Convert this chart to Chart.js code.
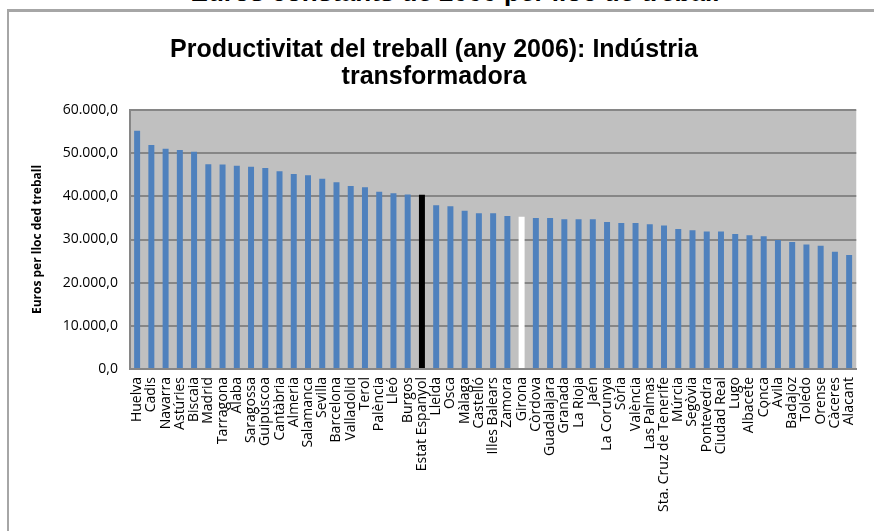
<!DOCTYPE html>
<html>
<head>
<meta charset="utf-8">
<script src="https://cdn.jsdelivr.net/npm/chart.js@4"></script>
<style>
  body { margin: 0; background: #fff; overflow: hidden; }
  #wrap { position: relative; width: 874px; height: 531px; }
  #frame { position: absolute; left: 7px; top: 9px; width: 900px; height: 600px;
           border-left: 2px solid #a6a6a6; border-top: 3px solid #a6a6a6; pointer-events: none; }
  #cut { position: absolute; left: 0; width: 910px; top: -23px; text-align: center;
         font: bold 26px "Liberation Sans", sans-serif; color: #000; }
  canvas { position: absolute; left: 0; top: 0; }
</style>
</head>
<body>
<div id="wrap">
  <div id="cut">Euros constants de 2000 per lloc de treball</div>
  <canvas id="prodChart" width="874" height="531"></canvas>
  <div id="frame"></div>
</div>
<script>
const categories = ["Huelva", "Cadis", "Navarra", "Astúries", "Biscaia", "Madrid", "Tarragona", "Àlaba",
  "Saragossa", "Guipúscoa", "Cantàbria", "Almeria", "Salamanca", "Sevilla", "Barcelona", "Valladolid",
  "Terol", "Palència", "Lleó", "Burgos", "Estat Espanyol", "Lleida", "Osca", "Màlaga", "Castelló",
  "Illes Balears", "Zamora", "Girona", "Còrdova", "Guadalajara", "Granada", "La Rioja", "Jaén",
  "La Corunya", "Sòria", "València", "Las Palmas", "Sta. Cruz de Tenerife", "Múrcia", "Segòvia",
  "Pontevedra", "Ciudad Real", "Lugo", "Albacete", "Conca", "Àvila", "Badajoz", "Toledo", "Orense",
  "Càceres", "Alacant"];

const productivity = [55200, 51900, 51050, 50750, 50300, 47430, 47400, 47100,
  46880, 46580, 45800, 45200, 44900, 44100, 43270, 42400,
  42100, 41050, 40720, 40420, 40350, 37950, 37700, 36650, 36100,
  36100, 35450, 35250, 35000, 35000, 34700, 34700, 34700,
  34080, 33850, 33850, 33550, 33230, 32450, 32150,
  31850, 31850, 31300, 31000, 30750, 29900, 29400, 28850, 28550,
  27150, 26400];

const yTicks = [0, 10000, 20000, 30000, 40000, 50000, 60000];

const barColors = categories.map(c => {
    if (c === "Estat Espanyol") return "#000000";
    if (c === "Girona") return "#ffffff";
    return "#4f81bd";
});

const plotBg = {
    id: 'plotBg',
    beforeDraw(chart) {
        const a = chart.chartArea;
        const ctx = chart.ctx;
        ctx.save();
        ctx.fillStyle = "#c0c0c0";
        ctx.fillRect(a.left, a.top, a.right - a.left, a.bottom - a.top);
        ctx.restore();
    }
};

new Chart("prodChart", {
    type: "bar",
    data: {
        labels: categories,
        datasets: [{
            data: productivity,
            backgroundColor: barColors,
            barPercentage: 0.42,
            categoryPercentage: 1.0
        }]
    },
    options: {
        responsive: false,
        animation: false,
        layout: { padding: { left: 0, right: 6, top: 0, bottom: 0 } },
        plugins: {
            legend: { display: false },
            tooltip: { enabled: false },
            title: {
                display: true,
                text: ["Productivitat del treball (any 2006): Indústria", "transformadora"],
                color: "#000",
                font: { family: "'Liberation Sans', sans-serif", size: 25, weight: "bold", lineHeight: 1.08 },
                padding: { top: 37, bottom: 19 }
            }
        },
        scales: {
            x: {
                grid: { display: false, drawTicks: false },
                border: { color: "#868686", width: 2 },
                ticks: {
                    autoSkip: false,
                    maxRotation: 90,
                    minRotation: 90,
                    padding: 8,
                    color: "#000",
                    font: { family: "'Open Sans', sans-serif", size: 14 }
                },
                afterFit(scale) { scale.height = 162; }
            },
            y: {
                min: 0,
                max: 60000,
                afterBuildTicks(scale) { scale.ticks = yTicks.map(v => ({ value: v })); },
                grid: { color: "#868686", lineWidth: 2, drawTicks: false },
                border: { color: "#868686", width: 2 },
                ticks: {
                    padding: 12,
                    color: "#000",
                    font: { family: "'Open Sans', sans-serif", size: 14 },
                    callback: v => v.toLocaleString('de-DE', { minimumFractionDigits: 1, maximumFractionDigits: 1 })
                },
                title: {
                    display: true,
                    text: "Euros per lloc ded treball",
                    color: "#000",
                    font: { family: "'Open Sans', sans-serif", size: 12, weight: "bold" },
                    padding: { top: 30, bottom: 0 }
                },
                afterFit(scale) { scale.width = 130; }
            }
        }
    },
    plugins: [plotBg]
});
</script>
</body>
</html>
